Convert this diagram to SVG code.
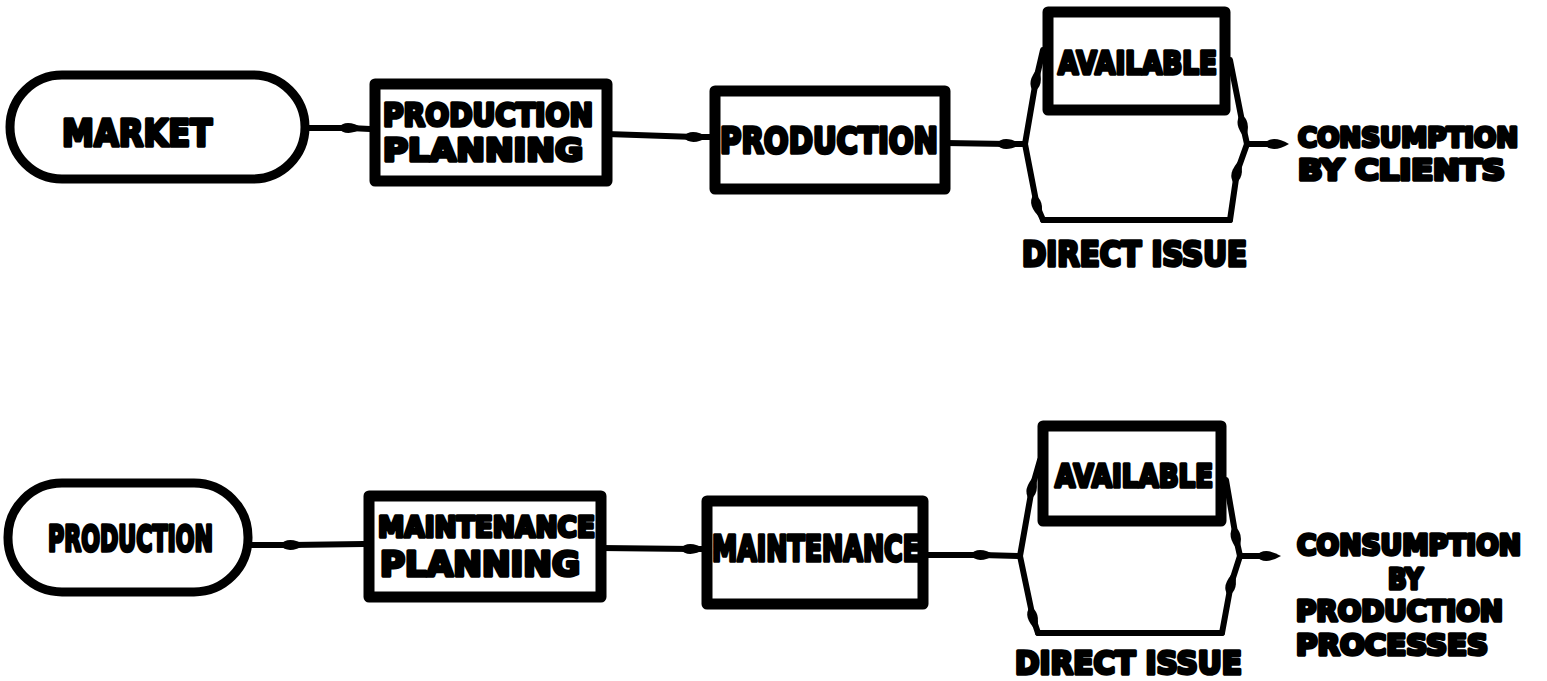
<svg xmlns="http://www.w3.org/2000/svg" width="1547" height="681" viewBox="0 0 1547 681">
  <style>
    .box { fill: none; stroke: #000; stroke-width: 11; stroke-linejoin: round; }
    .pill { fill: none; stroke: #000; stroke-width: 9; }
    .wire { fill: none; stroke: #000; stroke-width: 6; stroke-linejoin: round; stroke-linecap: round; }
    .lbl { font-family: "DejaVu Sans", "Liberation Sans", sans-serif; font-weight: bold; fill: #000; stroke: #000; stroke-width: 3.5; stroke-linejoin: round; }
  </style>
  <defs>
    <!-- smudged lens-shaped arrowhead used along the flow lines -->
    <marker id="blob" markerWidth="30" markerHeight="22" markerUnits="userSpaceOnUse" refX="14" refY="11" orient="auto" overflow="visible">
      <path d="M 2 11 Q 10 1 27 11 Q 10 21 2 11 Z" fill="#000"/>
    </marker>
  </defs>
  <rect width="1547" height="681" fill="#fff"/>

  <!-- ===== upper chain: market to client consumption ===== -->
  <g id="market">
    <rect class="pill" x="10" y="75" width="295" height="104" rx="52"/>
    <text class="lbl" x="62" y="146" font-size="38" textLength="150" lengthAdjust="spacingAndGlyphs">MARKET</text>
  </g>
  <g id="production-planning">
    <rect class="box" x="375" y="84" width="232" height="97"/>
    <text class="lbl" x="383" y="126" font-size="32" textLength="210" lengthAdjust="spacingAndGlyphs">PRODUCTION</text>
    <text class="lbl" x="383" y="161" font-size="32" textLength="200" lengthAdjust="spacingAndGlyphs">PLANNING</text>
  </g>
  <g id="production">
    <rect class="box" x="715" y="91" width="230" height="98"/>
    <text class="lbl" x="720" y="153" font-size="36" textLength="218" lengthAdjust="spacingAndGlyphs">PRODUCTION</text>
  </g>
  <g id="available-1">
    <rect class="box" x="1048" y="12" width="177" height="98"/>
    <text class="lbl" x="1058" y="74" font-size="32" textLength="159" lengthAdjust="spacingAndGlyphs">AVAILABLE</text>
  </g>
  <g id="direct-issue-1">
    <text class="lbl" x="1022" y="266" font-size="34" textLength="225" lengthAdjust="spacingAndGlyphs">DIRECT ISSUE</text>
  </g>
  <g id="consumption-clients">
    <text class="lbl" x="1298" y="147" font-size="27" textLength="220" lengthAdjust="spacingAndGlyphs">CONSUMPTION</text>
    <text class="lbl" x="1298" y="180" font-size="28" textLength="207" lengthAdjust="spacingAndGlyphs">BY  CLIENTS</text>
  </g>

  <!-- ===== lower chain: production to process consumption ===== -->
  <g id="production-source">
    <rect class="pill" x="8" y="483" width="240" height="109" rx="54"/>
    <text class="lbl" x="48" y="551" font-size="36" textLength="165" lengthAdjust="spacingAndGlyphs">PRODUCTION</text>
  </g>
  <g id="maintenance-planning">
    <rect class="box" x="369" y="496" width="232" height="101"/>
    <text class="lbl" x="378" y="537" font-size="29" textLength="217" lengthAdjust="spacingAndGlyphs">MAINTENANCE</text>
    <text class="lbl" x="380" y="576" font-size="34" textLength="200" lengthAdjust="spacingAndGlyphs">PLANNING</text>
  </g>
  <g id="maintenance">
    <rect class="box" x="707" y="501" width="216" height="103"/>
    <text class="lbl" x="712" y="561" font-size="36" textLength="208" lengthAdjust="spacingAndGlyphs">MAINTENANCE</text>
  </g>
  <g id="available-2">
    <rect class="box" x="1043" y="426" width="178" height="95"/>
    <text class="lbl" x="1055" y="487" font-size="32" textLength="158" lengthAdjust="spacingAndGlyphs">AVAILABLE</text>
  </g>
  <g id="direct-issue-2">
    <text class="lbl" x="1015" y="674" font-size="32" textLength="227" lengthAdjust="spacingAndGlyphs">DIRECT ISSUE</text>
  </g>
  <g id="consumption-processes">
    <text class="lbl" x="1297" y="555" font-size="28" textLength="224" lengthAdjust="spacingAndGlyphs">CONSUMPTION</text>
    <text class="lbl" x="1388" y="589" font-size="28" textLength="35" lengthAdjust="spacingAndGlyphs">BY</text>
    <text class="lbl" x="1296" y="621" font-size="28" textLength="207" lengthAdjust="spacingAndGlyphs">PRODUCTION</text>
    <text class="lbl" x="1296" y="655" font-size="28" textLength="192" lengthAdjust="spacingAndGlyphs">PROCESSES</text>
  </g>

  <!-- ===== flow lines ===== -->
  <g id="connectors">
    <!-- upper chain -->
    <path class="wire" d="M 305 128 L 350 128 L 370 129" marker-mid="url(#blob)"/>
    <path class="wire" d="M 607 134 L 695 137 L 710 137" marker-mid="url(#blob)"/>
    <path class="wire" d="M 945 143 L 1008 144 L 1025 144" marker-mid="url(#blob)"/>
    <path class="wire" d="M 1025 144 L 1036 80 L 1043 50" marker-mid="url(#blob)"/>
    <path class="wire" d="M 1025 144 L 1037 206 L 1043 220" marker-mid="url(#blob)"/>
    <path class="wire" d="M 1043 220 L 1230 220"/>
    <path class="wire" d="M 1230 220 L 1237 172 L 1247 144" marker-mid="url(#blob)"/>
    <path class="wire" d="M 1230 60 L 1243 126 L 1247 144" marker-mid="url(#blob)"/>
    <path class="wire" d="M 1247 144 L 1276 144 L 1280 144" marker-mid="url(#blob)"/>

    <!-- lower chain -->
    <path class="wire" d="M 248 545 L 292 545 L 364 544" marker-mid="url(#blob)"/>
    <path class="wire" d="M 601 548 L 692 549 L 702 549" marker-mid="url(#blob)"/>
    <path class="wire" d="M 923 555 L 982 555 L 1020 556" marker-mid="url(#blob)"/>
    <path class="wire" d="M 1020 556 L 1032 488 L 1040 460" marker-mid="url(#blob)"/>
    <path class="wire" d="M 1020 556 L 1033 618 L 1038 633" marker-mid="url(#blob)"/>
    <path class="wire" d="M 1038 633 L 1222 633"/>
    <path class="wire" d="M 1222 633 L 1231 584 L 1240 556" marker-mid="url(#blob)"/>
    <path class="wire" d="M 1226 480 L 1236 538 L 1240 556" marker-mid="url(#blob)"/>
    <path class="wire" d="M 1240 556 L 1268 556 L 1272 556" marker-mid="url(#blob)"/>
  </g>
</svg>
